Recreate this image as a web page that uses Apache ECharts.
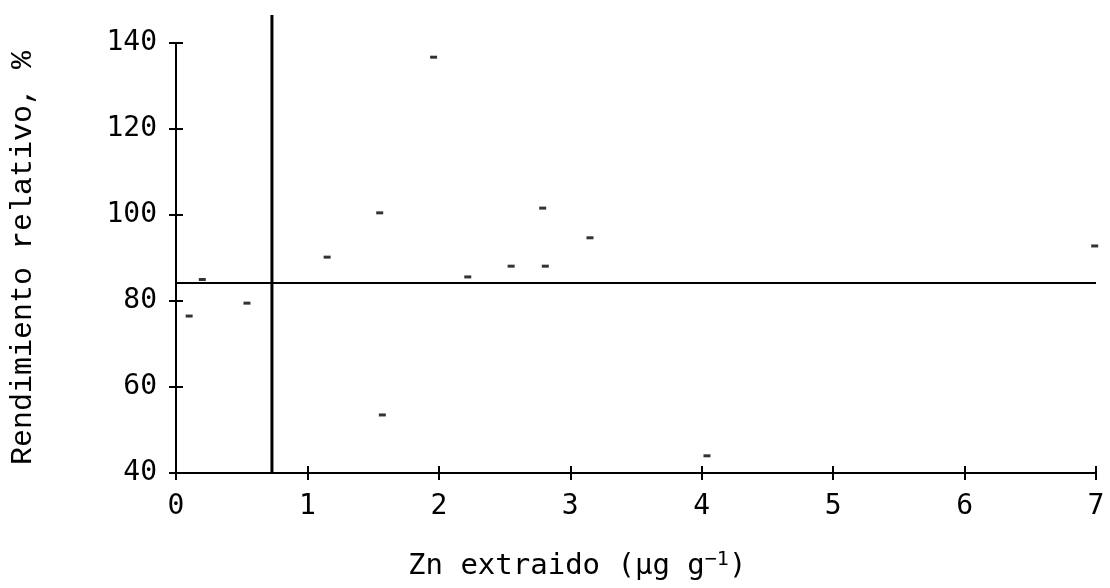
<!DOCTYPE html>
<html>
<head>
<meta charset="utf-8">
<script src="https://cdn.jsdelivr.net/npm/echarts@6/dist/echarts.min.js"></script>
<style>
  html, body { margin: 0; padding: 0; background: #fff; }
  #chart { width: 1110px; height: 588px; }
</style>
</head>
<body>
<div id="chart"></div>
<script>
// Zn extraido vs rendimiento relativo
const znValues = [0.1, 0.2, 0.54, 1.15, 1.55, 1.57, 1.96, 2.22, 2.55, 2.79, 2.81, 3.15, 4.04, 6.99]
const yieldValues = [76.5, 85, 79.5, 90.2, 100.5, 53.5, 136.7, 85.6, 88.1, 101.6, 88.1, 94.7, 44, 92.8]
const criticalZn = 0.73
const criticalYield = 84.2
const lineTop = 146.5
const xTicks = [0, 1, 2, 3, 4, 5, 6, 7]
const yTicks = [40, 60, 80, 100, 120, 140]

const chart = echarts.init(document.getElementById('chart'))

const axisCommon = {
  axisLine: { lineStyle: { color: '#000', width: 2 } },
  splitLine: { show: false }
}

chart.setOption({
  animation: false,
  backgroundColor: '#fff',
  grid: {
    left: 176,
    right: 14,
    top: 43,
    bottom: 115,
    containLabel: false,
    outerBoundsMode: 'none'
  },
  xAxis: [{
    type: 'value',
    min: xTicks[0],
    max: xTicks[xTicks.length - 1],
    interval: 1,
    ...axisCommon,
    axisTick: { length: 7, lineStyle: { color: '#000', width: 2 } },
    axisLabel: {
      margin: 20,
      fontFamily: 'DejaVu Sans Mono',
      fontSize: 28,
      color: '#000'
    }
  }, {
    type: 'value',
    position: 'bottom',
    min: xTicks[0],
    max: xTicks[xTicks.length - 1],
    interval: 1,
    axisLine: { show: false },
    axisTick: { inside: true, length: 7, lineStyle: { color: '#000', width: 2 } },
    axisLabel: { show: false },
    splitLine: { show: false }
  }],
  yAxis: [{
    type: 'value',
    min: yTicks[0],
    max: yTicks[yTicks.length - 1],
    interval: 20,
    ...axisCommon,
    axisTick: { length: 7, lineStyle: { color: '#000', width: 2 } },
    axisLabel: {
      margin: 19,
      fontFamily: 'DejaVu Sans Mono',
      fontSize: 28,
      color: '#000'
    },
    name: 'Rendimiento relativo, %',
    nameLocation: 'middle',
    nameGap: 138,
    nameTextStyle: {
      fontFamily: 'Liberation Mono',
      fontSize: 30,
      color: '#000'
    }
  }, {
    type: 'value',
    position: 'left',
    min: yTicks[0],
    max: yTicks[yTicks.length - 1],
    interval: 20,
    axisLine: { show: false },
    axisTick: { inside: true, length: 7, lineStyle: { color: '#000', width: 2 } },
    axisLabel: { show: false },
    splitLine: { show: false }
  }],
  graphic: [{
    type: 'text',
    left: 408,
    top: 550,
    style: {
      text: 'Zn extraido (µg g{sup|−1})',
      rich: {
        sup: { fontSize: 20, verticalAlign: 'top', padding: [0, 0, 12, 0], fontFamily: 'DejaVu Sans Mono', fill: '#000' }
      },
      fontFamily: 'DejaVu Sans Mono',
      fontSize: 29,
      fill: '#000'
    }
  }],
  series: [{
    type: 'scatter',
    symbol: 'rect',
    symbolSize: [7, 3],
    itemStyle: { color: '#000' },
    data: znValues.map((x, i) => [x, yieldValues[i]])
  }, {
    type: 'line',
    symbol: 'none',
    clip: false,
    lineStyle: { color: '#000', width: 2 },
    data: [[xTicks[0], criticalYield], [xTicks[xTicks.length - 1], criticalYield]]
  }, {
    type: 'line',
    symbol: 'none',
    clip: false,
    lineStyle: { color: '#000', width: 3 },
    data: [[criticalZn, yTicks[0]], [criticalZn, lineTop]]
  }]
})
</script>
</body>
</html>
